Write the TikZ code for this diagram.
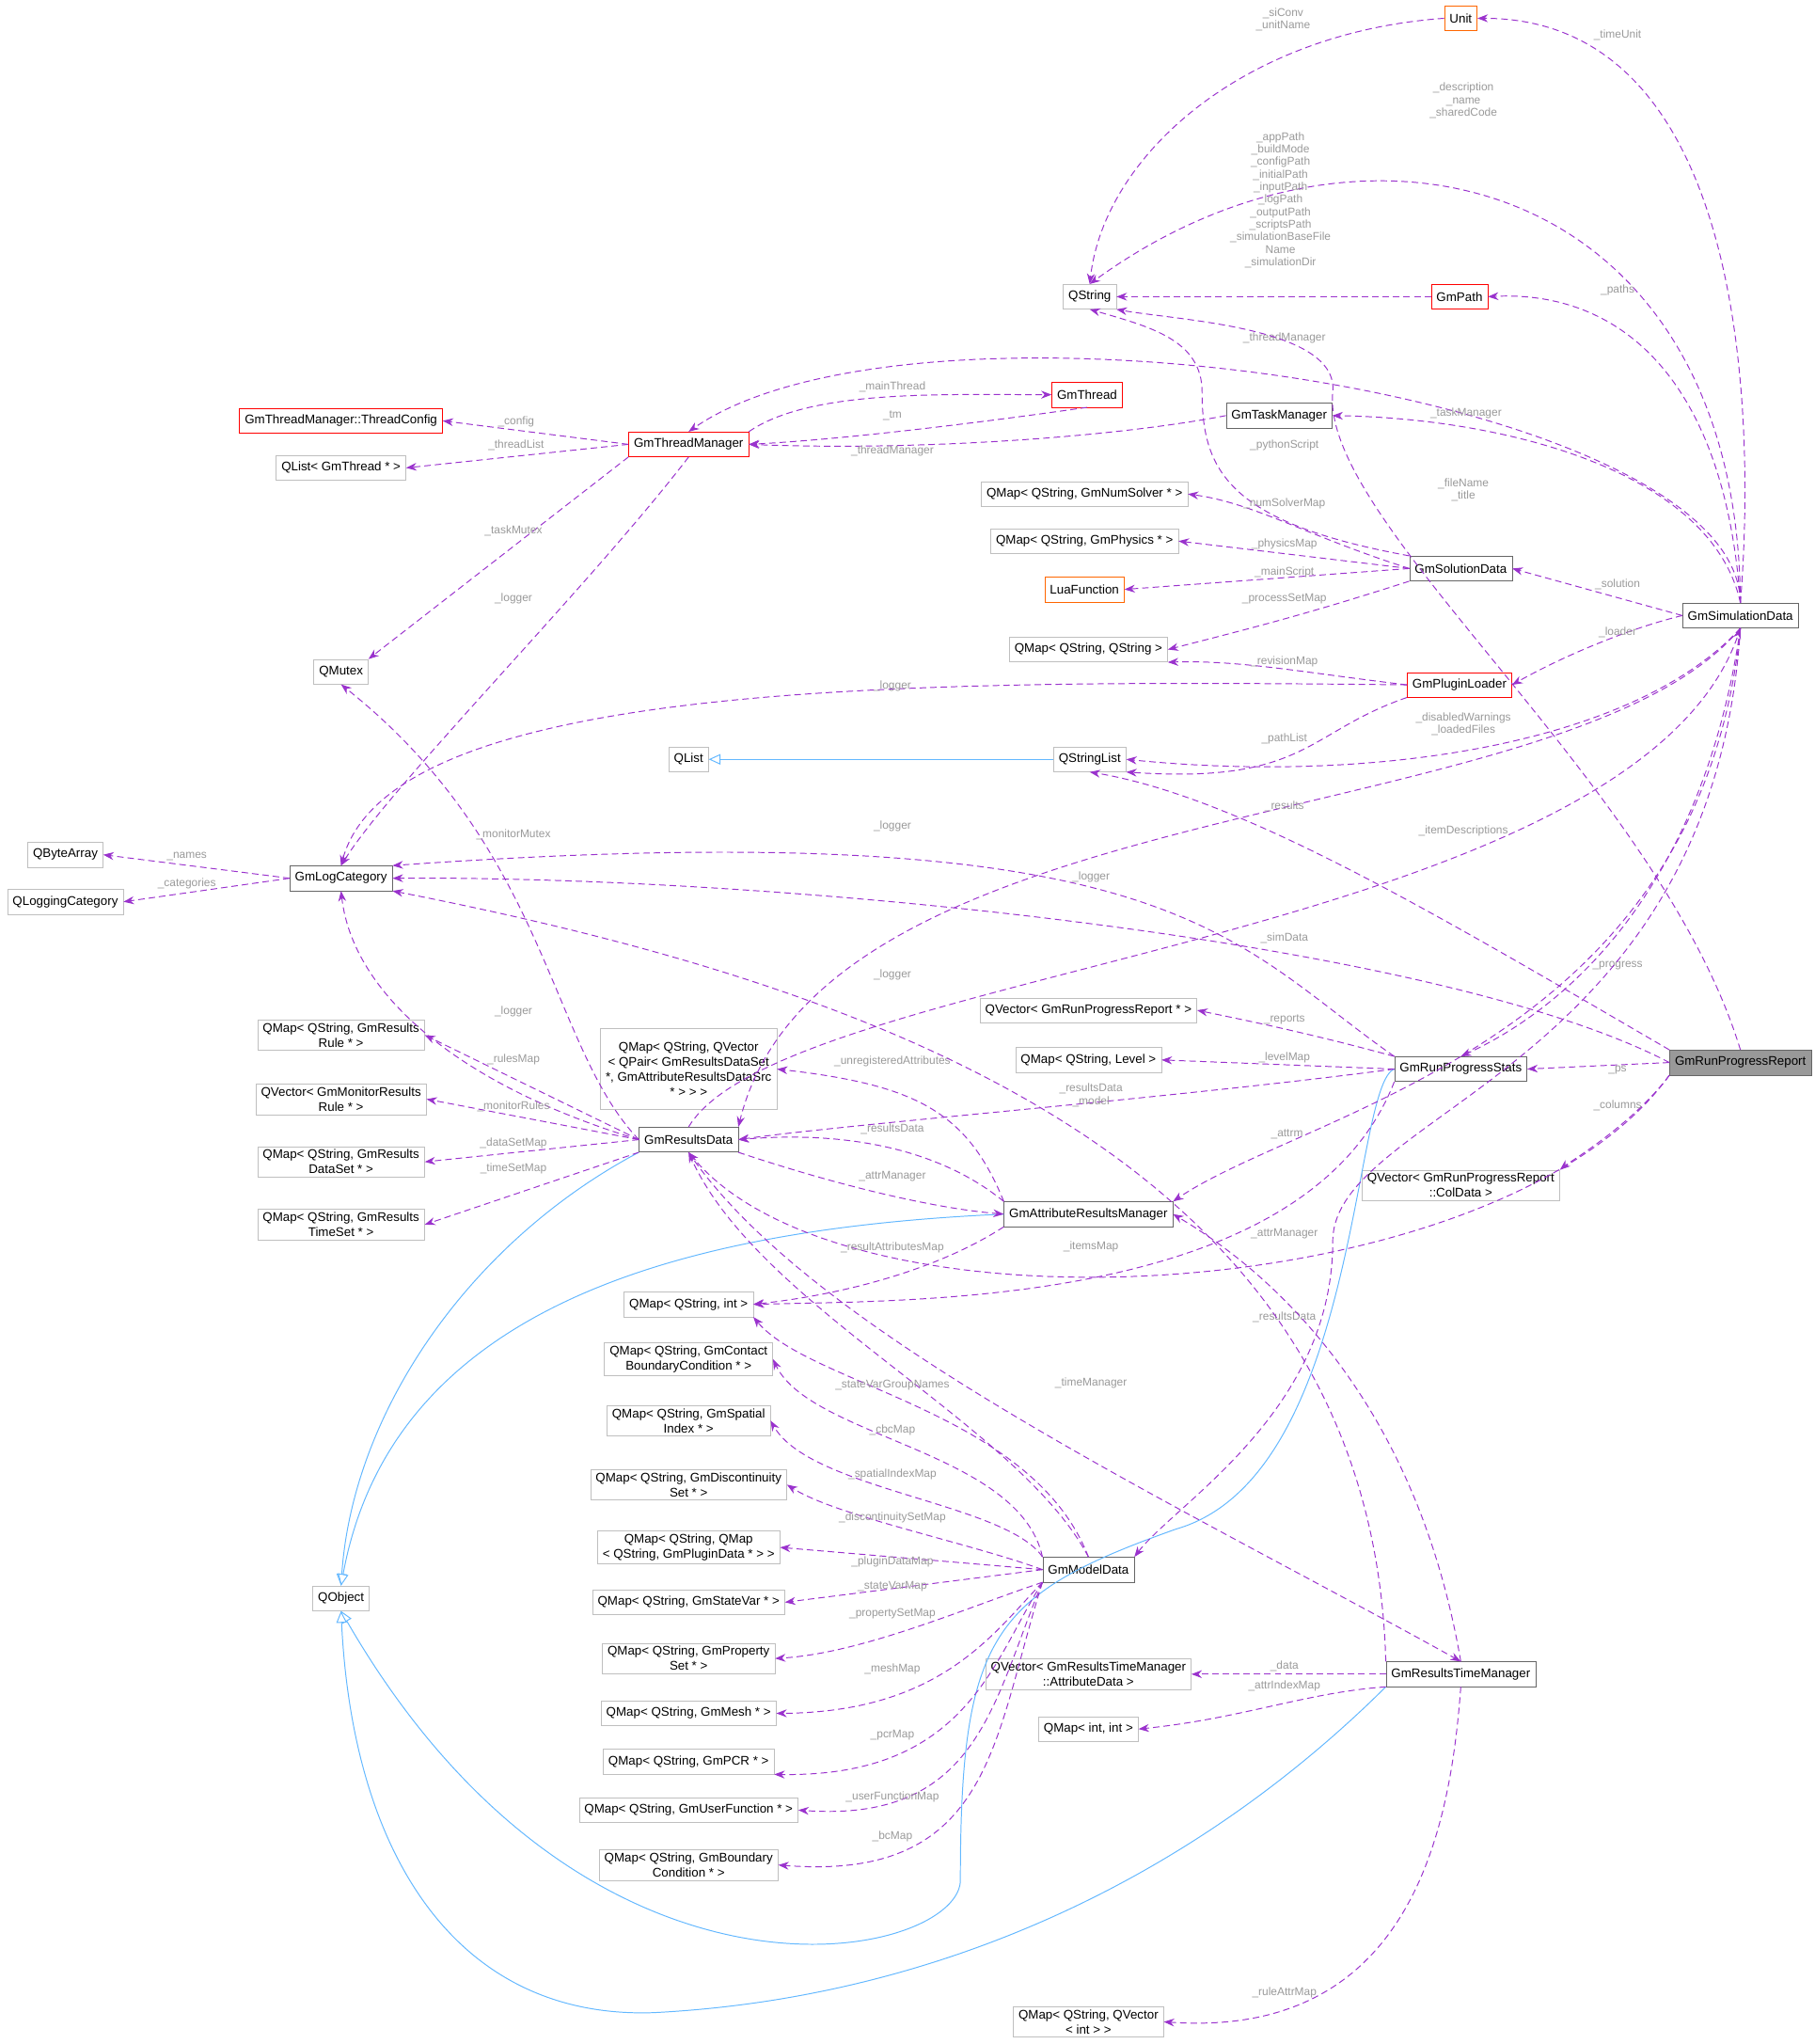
\documentclass[tikz,border=0pt]{standalone}
\usepackage{fontspec}
\setmainfont{Liberation Sans}
\usetikzlibrary{arrows.meta}
\definecolor{dep}{HTML}{9A32CD}
\definecolor{inh}{HTML}{63B8FF}
\definecolor{lbl}{HTML}{9A9A9A}
\tikzset{
 cls/.style={draw=black!25,fill=white,rectangle,inner xsep=4pt,inner ysep=2.5pt,minimum height=19pt,font=\fontsize{9.6}{11.5}\selectfont,align=center},
 dk/.style={cls,draw=black!60},
 rd/.style={cls,draw=red},
 or/.style={cls,draw=orange!80!red},
 dep/.style={draw=dep,dashed,dash pattern=on 5pt off 3pt,-{Stealth[length=8pt,width=6pt]},line width=0.7pt},
 inh/.style={draw=inh,-{Triangle[open,length=9pt,width=8pt,fill=white]},line width=0.7pt},
 lb/.style={text=lbl,font=\fontsize{8.6}{9.6}\selectfont,align=center,inner sep=0pt},
}
\begin{document}
\begin{tikzpicture}[x=1pt,y=-1pt]
\useasboundingbox[fill=white] (0,0) rectangle (1389,1564);
% nodes
\node[or] (Unit) at (1118,14) {Unit};
\node[cls] (QString) at (834,227) {QString};
\node[rd] (GmPath) at (1117,227) {GmPath};
\node[rd] (GmThread) at (832,302) {GmThread};
\node[rd] (TC) at (261,322) {GmThreadManager::ThreadConfig};
\node[rd] (TM) at (527,340) {GmThreadManager};
\node[cls] (QListT) at (261,358) {QList< GmThread * >};
\node[dk] (Task) at (979,318) {GmTaskManager};
\node[cls] (NumSolver) at (830,378) {QMap< QString, GmNumSolver * >};
\node[cls] (Physics) at (830,414) {QMap< QString, GmPhysics * >};
\node[or] (Lua) at (830,451) {LuaFunction};
\node[dk] (Sol) at (1118,435) {GmSolutionData};
\node[dk] (Sim) at (1332,471) {GmSimulationData};
\node[cls] (QMSS) at (833,497) {QMap< QString, QString >};
\node[rd] (Plugin) at (1117,524) {GmPluginLoader};
\node[cls] (QMutex) at (261,514) {QMutex};
\node[cls] (QList) at (527,581) {QList};
\node[cls] (QSL) at (834,581) {QStringList};
\node[cls] (QBA) at (50,654) {QByteArray};
\node[dk] (Log) at (261,672) {GmLogCategory};
\node[cls] (QLC) at (50,690) {QLoggingCategory};
\node[cls] (QVR) at (833,773) {QVector< GmRunProgressReport * >};
\node[cls] (QML) at (833,811) {QMap< QString, Level >};
\node[dk] (Stats) at (1118,818) {GmRunProgressStats};
\node[dk,fill=black!40] (Report) at (1332,813) {GmRunProgressReport};
\node[cls,minimum height=62pt] (QPair) at (527,818) {QMap< QString, QVector\\< QPair< GmResultsDataSet\\ *, GmAttributeResultsDataSrc\\ * > > >};
\node[cls] (Rules) at (261,792) {QMap< QString, GmResults\\Rule * >};
\node[cls] (Monitor) at (261,841) {QVector< GmMonitorResults\\Rule * >};
\node[cls] (DataSet) at (261,889) {QMap< QString, GmResults\\DataSet * >};
\node[cls] (TimeSet) at (261,937) {QMap< QString, GmResults\\TimeSet * >};
\node[dk] (RD) at (527,872) {GmResultsData};
\node[dk] (ARM) at (833,929) {GmAttributeResultsManager};
\node[cls] (ColData) at (1118,907) {QVector< GmRunProgressReport\\::ColData >};
\node[cls] (QMSI) at (527,998) {QMap< QString, int >};
\node[cls] (CBC) at (527,1040) {QMap< QString, GmContact\\BoundaryCondition * >};
\node[cls] (Spatial) at (527,1087) {QMap< QString, GmSpatial\\Index * >};
\node[cls] (Disc) at (527,1136) {QMap< QString, GmDiscontinuity\\Set * >};
\node[cls] (PluginData) at (527,1184) {QMap< QString, QMap\\< QString, GmPluginData * > >};
\node[cls] (QObject) at (261,1223) {QObject};
\node[cls] (StateVar) at (527,1226) {QMap< QString, GmStateVar * >};
\node[dk] (MD) at (833,1201) {GmModelData};
\node[cls] (PropSet) at (527,1269) {QMap< QString, GmProperty\\Set * >};
\node[cls] (Mesh) at (527,1311) {QMap< QString, GmMesh * >};
\node[cls] (PCR) at (527,1348) {QMap< QString, GmPCR * >};
\node[cls] (UserFn) at (527,1385) {QMap< QString, GmUserFunction * >};
\node[cls] (BC) at (527,1427) {QMap< QString, GmBoundary\\Condition * >};
\node[cls] (AttrData) at (833,1281) {QVector< GmResultsTimeManager\\::AttributeData >};
\node[cls] (QMII) at (833,1323) {QMap< int, int >};
\node[dk] (RTM) at (1118,1281) {GmResultsTimeManager};
\node[cls] (RuleAttr) at (833,1547) {QMap< QString, QVector\\< int > >};

% inheritance
\draw[inh] (QSL) -- (QList);
\draw[inh] (RD.south west) .. controls (360,950) and (270,1080) .. (QObject.north);
\draw[inh] (ARM.west) .. controls (520,940) and (300,1000) .. (QObject.north);
\draw[inh] (Stats.west) .. controls (1035,830) and (1040,1130) .. (900,1170) .. controls (760,1220) and (735,1250) .. (735,1440) .. controls (730,1500) and (450,1560) .. (QObject.south);
\draw[inh] (RTM.south west) .. controls (900,1450) and (700,1530) .. (500,1540) .. controls (350,1545) and (270,1420) .. (QObject.south);

% dependencies
\draw[dep] (Sim.north) .. controls (1345,300) and (1330,14) .. (Unit.east);
\node[lb] (l1) at (1238,27) {\_timeUnit};
\draw[dep] (Unit.west) .. controls (950,25) and (845,120) .. (QString.north);
\node[lb] (l2) at (982,15) {\_siConv\\\_unitName};
\draw[dep] (Sim.north) .. controls (1330,140) and (1050,60) .. (QString.north);
\node[lb] (l3) at (1120,77) {\_description\\\_name\\\_sharedCode};
\draw[dep] (GmPath.west) -- (QString.east);
\node[lb] (l4) at (980,153) {\_appPath\\\_buildMode\\\_configPath\\\_initialPath\\\_inputPath\\\_logPath\\\_outputPath\\\_scriptsPath\\\_simulationBaseFile\\Name\\\_simulationDir};
\draw[dep] (Sim.north) .. controls (1320,290) and (1240,222) .. (GmPath.east);
\node[lb] (l5) at (1238,222) {\_paths};
\draw[dep] (Sim.north) .. controls (1330,300) and (700,210) .. (TM.north);
\node[lb] (l6) at (983,259) {\_threadManager};
\draw[dep] (TM.north east) .. controls (620,298) and (720,302) .. (GmThread.west);
\node[lb] (l7) at (683,296) {\_mainThread};
\draw[dep] (GmThread.south) .. controls (760,322) and (650,336) .. (TM.east);
\node[lb] (l8) at (683,318) {\_tm};
\draw[dep] (Task.west) .. controls (850,335) and (700,345) .. (TM.east);
\node[lb] (l9) at (683,345) {\_threadManager};
\draw[dep] (TM.west) -- (TC.east);
\node[lb] (l10) at (395,323) {\_config};
\draw[dep] (TM.west) -- (QListT.east);
\node[lb] (l11) at (395,341) {\_threadList};
\draw[dep] (TM.south west) -- (QMutex.north east);
\node[lb] (l12) at (393,406) {\_taskMutex};
\draw[dep] (TM.south) .. controls (450,450) and (300,600) .. (Log.north);
\node[lb] (l13) at (393,458) {\_logger};
\draw[dep] (Sim.north) .. controls (1310,360) and (1150,320) .. (Task.east);
\node[lb] (l14) at (1122,316) {\_taskManager};
\draw[dep] (Sol.north west) .. controls (940,400) and (920,360) .. (920,300) .. controls (920,260) and (880,250) .. (QString.south);
\node[lb] (l15) at (983,341) {\_pythonScript};
\draw[dep] (Report.north) .. controls (1270,600) and (1010,400) .. (1020,300) .. controls (1025,250) and (900,245) .. (QString.south east);
\node[lb] (l16) at (1120,375) {\_fileName\\\_title};
\draw[dep] (Sol.west) .. controls (1000,410) and (960,385) .. (NumSolver.east);
\node[lb] (l17) at (983,385) {\_numSolverMap};
\draw[dep] (Sol.west) -- (Physics.east);
\node[lb] (l18) at (983,416) {\_physicsMap};
\draw[dep] (Sol.west) -- (Lua.east);
\node[lb] (l19) at (983,438) {\_mainScript};
\draw[dep] (Sol.south west) .. controls (1000,470) and (960,480) .. (QMSS.east);
\node[lb] (l20) at (983,458) {\_processSetMap};
\draw[dep] (Sim.west) -- (Sol.east);
\node[lb] (l21) at (1238,447) {\_solution};
\draw[dep] (Plugin.west) .. controls (1000,515) and (950,505) .. (QMSS.south east);
\node[lb] (l22) at (983,506) {\_revisionMap};
\draw[dep] (Sim.west) .. controls (1250,480) and (1200,500) .. (Plugin.east);
\node[lb] (l23) at (1238,484) {\_loader};
\draw[dep] (Plugin.west) .. controls (700,520) and (300,520) .. (Log.north);
\node[lb] (l24) at (683,525) {\_logger};
\draw[dep] (Plugin.south west) .. controls (1000,560) and (1000,600) .. (QSL.south east);
\node[lb] (l25) at (983,565) {\_pathList};
\draw[dep] (Sim.south) .. controls (1250,570) and (1050,600) .. (QSL.east);
\node[lb] (l26) at (1120,554) {\_disabledWarnings\\\_loadedFiles};
\draw[dep] (Sim.south) .. controls (1200,640) and (630,600) .. (RD.north east);
\node[lb] (l27) at (983,617) {\_results};
\draw[dep] (Report.north west) .. controls (1100,700) and (950,610) .. (QSL.south);
\node[lb] (l28) at (1120,636) {\_itemDescriptions};
\draw[dep] (Log.west) -- (QBA.east);
\node[lb] (l29) at (143,655) {\_names};
\draw[dep] (Log.west) -- (QLC.east);
\node[lb] (l30) at (143,676) {\_categories};
\draw[dep] (Stats.north west) .. controls (940,720) and (900,620) .. (Log.north east);
\node[lb] (l31) at (683,632) {\_logger};
\draw[dep] (Report.west) .. controls (1100,720) and (600,670) .. (Log.east);
\node[lb] (l32) at (835,671) {\_logger};
\draw[dep] (RD.west) .. controls (350,830) and (270,760) .. (Log.south);
\node[lb] (l33) at (393,774) {\_logger};
\draw[dep] (RD.west) .. controls (420,800) and (420,650) .. (QMutex.south);
\node[lb] (l34) at (393,639) {\_monitorMutex};
\draw[dep] (RD.north) .. controls (600,740) and (1250,720) .. (Sim.south);
\node[lb] (l35) at (983,718) {\_simData};
\draw[dep] (Sim.south) .. controls (1300,700) and (1180,780) .. (Stats.north);
\node[lb] (l36) at (1238,739) {\_progress};
\draw[dep] (Report.west) -- (Stats.east);
\node[lb] (l37) at (1238,819) {\_ps};
\draw[dep] (Stats.north west) .. controls (1000,790) and (950,780) .. (QVR.east);
\node[lb] (l38) at (983,780) {\_reports};
\draw[dep] (Stats.west) -- (QML.east);
\node[lb] (l39) at (983,809) {\_levelMap};
\draw[dep] (Stats.west) .. controls (900,840) and (650,860) .. (RD.east);
\node[lb] (l40) at (835,833) {\_resultsData};
\draw[dep] (Report.south west) .. controls (1250,860) and (1200,890) .. (ColData.north east);
\node[lb] (l41) at (1238,846) {\_columns};
\draw[dep] (Report.south west) .. controls (1150,1000) and (650,1030) .. (RD.south);
\node[lb] (l42) at (983,1008) {\_resultsData};
\draw[dep] (RD.west) -- (Rules.east);
\node[lb] (l43) at (393,811) {\_rulesMap};
\draw[dep] (RD.west) -- (Monitor.east);
\node[lb] (l44) at (393,847) {\_monitorRules};
\draw[dep] (RD.west) -- (DataSet.east);
\node[lb] (l45) at (393,875) {\_dataSetMap};
\draw[dep] (RD.south west) -- (TimeSet.east);
\node[lb] (l46) at (393,894) {\_timeSetMap};
\draw[dep] (ARM.north west) .. controls (720,880) and (650,865) .. (RD.east);
\node[lb] (l47) at (683,864) {\_resultsData};
\draw[dep] (RD.south east) .. controls (650,910) and (720,925) .. (ARM.west);
\node[lb] (l48) at (683,900) {\_attrManager};
\draw[dep] (ARM.north west) .. controls (740,850) and (700,830) .. (QPair.east);
\node[lb] (l49) at (683,812) {\_unregisteredAttributes};
\draw[dep] (RTM.north west) .. controls (1050,900) and (700,760) .. (Log.south east);
\node[lb] (l50) at (683,746) {\_logger};
\draw[dep] (ARM.south west) .. controls (720,970) and (650,990) .. (QMSI.east);
\node[lb] (l51) at (683,955) {\_resultAttributesMap};
\draw[dep] (Stats.south west) .. controls (1000,1000) and (700,995) .. (QMSI.east);
\node[lb] (l52) at (835,954) {\_itemsMap};
\draw[dep] (Sim.south) .. controls (1300,800) and (1000,850) .. (ARM.north east);
\node[lb] (l53) at (985,868) {\_attrm};
\draw[dep] (RTM.north) .. controls (1080,1050) and (950,960) .. (ARM.east);
\node[lb] (l54) at (983,944) {\_attrManager};
\draw[dep] (RD.south) .. controls (620,1020) and (900,1150) .. (RTM.north);
\node[lb] (l55) at (835,1058) {\_timeManager};
\draw[dep] (Sim.south) .. controls (1310,820) and (1020,850) .. (1020,950) .. controls (1020,1080) and (900,1150) .. (MD.north east);
\node[lb] (l56) at (835,843) {\_model};
\draw[dep] (MD.north) .. controls (780,1090) and (580,1000) .. (RD.south);
\draw[dep] (MD.north) .. controls (790,1080) and (620,1060) .. (QMSI.south east);
\node[lb] (l57) at (683,1060) {\_stateVarGroupNames};
\draw[dep] (MD.north west) .. controls (780,1110) and (620,1100) .. (CBC.east);
\node[lb] (l58) at (683,1094) {\_cbcMap};
\draw[dep] (MD.north west) .. controls (770,1150) and (620,1140) .. (Spatial.east);
\node[lb] (l59) at (683,1128) {\_spatialIndexMap};
\draw[dep] (MD.west) .. controls (740,1180) and (640,1160) .. (Disc.east);
\node[lb] (l60) at (683,1161) {\_discontinuitySetMap};
\draw[dep] (MD.west) -- (PluginData.east);
\node[lb] (l61) at (683,1195) {\_pluginDataMap};
\draw[dep] (MD.west) -- (StateVar.east);
\node[lb] (l62) at (683,1214) {\_stateVarMap};
\draw[dep] (MD.south west) .. controls (740,1230) and (660,1265) .. (PropSet.east);
\node[lb] (l63) at (683,1235) {\_propertySetMap};
\draw[dep] (MD.south west) .. controls (760,1250) and (720,1310) .. (Mesh.east);
\node[lb] (l64) at (683,1277) {\_meshMap};
\draw[dep] (MD.south west) .. controls (760,1270) and (740,1360) .. (PCR.south east);
\node[lb] (l65) at (683,1328) {\_pcrMap};
\draw[dep] (MD.south west) .. controls (760,1300) and (750,1395) .. (UserFn.east);
\node[lb] (l66) at (683,1375) {\_userFunctionMap};
\draw[dep] (MD.south west) .. controls (760,1330) and (760,1440) .. (BC.east);
\node[lb] (l67) at (683,1405) {\_bcMap};
\draw[dep] (RTM.west) -- (AttrData.east);
\node[lb] (l68) at (983,1275) {\_data};
\draw[dep] (RTM.south west) .. controls (1000,1295) and (950,1315) .. (QMII.east);
\node[lb] (l69) at (983,1290) {\_attrIndexMap};
\draw[dep] (RTM.south) .. controls (1110,1400) and (1080,1560) .. (RuleAttr.east);
\node[lb] (l70) at (983,1525) {\_ruleAttrMap};
\end{tikzpicture}
\end{document}
